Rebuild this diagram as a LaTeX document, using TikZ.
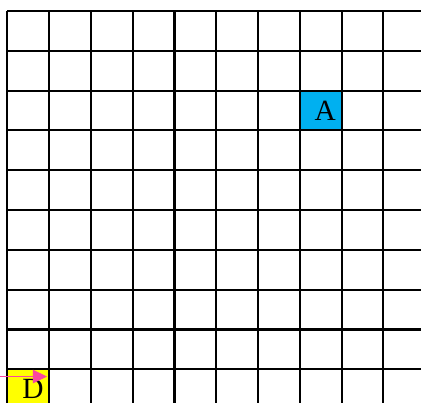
\documentclass[tikz,border=0pt]{standalone}
\usepackage{fontspec}
\setmainfont{Liberation Serif}
\usetikzlibrary{positioning, arrows.meta, calc}
\usepackage{xcolor}
\definecolor{agentblue}{RGB}{0, 176, 240}
\definecolor{goalyellow}{RGB}{255, 255, 0}
\definecolor{pathpink}{RGB}{250, 70, 160}

\begin{document}
\begin{tikzpicture}[
    x=1cm, y=0.953cm,
    cell/.style={
      draw=none, inner sep=0pt, minimum width=1cm,
      minimum height=0.953cm, font=\fontsize{20}{24}\selectfont
    },
    gridline/.style={line width=1.4pt, black},
    pointer/.style={-{Triangle[length=0.34cm, width=0.32cm]},
      pathpink, line width=0.8pt, shorten >=1.6pt},
]
    \useasboundingbox (-0.177,-9.845) rectangle (9.9,0.276);
    \clip (-0.177,-9.845) rectangle (9.9,0.276);

    % Marked cells
    \node[cell, fill=agentblue] (A) at (7.5,-2.5) {\hspace*{0.22cm}A};
    \node[cell, fill=goalyellow] (D) at (0.5,-9.5) {\hspace*{0.22cm}D};

    % Grid
    \foreach \i in {0,...,10}
      \draw[gridline] (\i,0) -- (\i,-10);
    \foreach \j in {0,...,10}
      \draw[gridline] (0,-\j) -- (10.5,-\j);

    % Incoming move
    \coordinate (feed) at ($(D.north west)+(-0.5,-0.18cm)$);
    \draw[pointer] (feed) -- (feed -| D.east);
\end{tikzpicture}
\end{document}
